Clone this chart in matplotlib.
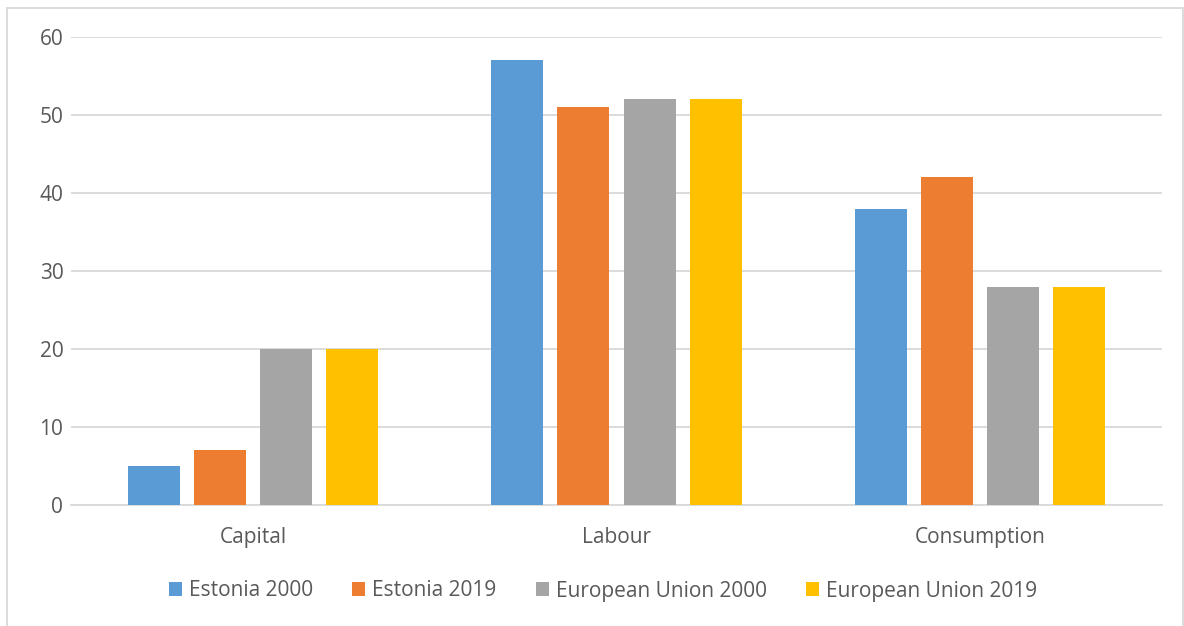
import matplotlib
matplotlib.use("Agg")
from matplotlib import pyplot as plt
from matplotlib.patches import Rectangle
import numpy as np

categories = ["Capital", "Labour", "Consumption"]
series_names = ["Estonia 2000", "Estonia 2019", "European Union 2000", "European Union 2019"]
estonia_2000 = [5, 57, 38]
estonia_2019 = [7, 51, 42]
eu_2000 = [20, 52, 28]
eu_2019 = [20, 52, 28]
y_ticks = [0, 10, 20, 30, 40, 50, 60]

colors = ["#5B9BD5", "#ED7D31", "#A5A5A5", "#FFC000"]
text_color = "#595959"
grid_color = "#D9D9D9"

plt.rcParams['font.family'] = ['Open Sans', 'DejaVu Sans']

fig = plt.figure(figsize=(11.84, 6.26), dpi=100)
# chart border
fig.patches.append(Rectangle((7 / 1184, -0.05), 1175.5 / 1184, 1.05 - 8 / 626,
                             transform=fig.transFigure, fill=False,
                             edgecolor=grid_color, linewidth=1.3))

ax = fig.add_axes([71 / 1184, 1 - 505 / 626, (1162 - 71) / 1184, (505 - 37) / 626])

x = np.arange(len(categories))
step = 0.1815
width = 0.143
all_series = [estonia_2000, estonia_2019, eu_2000, eu_2019]
for i, (name, vals) in enumerate(zip(series_names, all_series)):
    ax.bar(x + (i - 1.5) * step, vals, width, color=colors[i], label=name, zorder=3)

ax.set_xlim(-0.5, 2.5)
ax.set_ylim(0, 60)
ax.set_yticks(y_ticks)
ax.set_xticks(x)
ax.set_xticklabels(categories)
ax.grid(axis='y', color=grid_color, linewidth=1.3, zorder=0)
for side in ['top', 'right', 'left']:
    ax.spines[side].set_visible(False)
ax.spines['bottom'].set_color(grid_color)
ax.spines['bottom'].set_linewidth(1.3)
ax.tick_params(axis='both', length=0, labelsize=15, colors=text_color)
ax.tick_params(axis='y', pad=5.5)
ax.tick_params(axis='x', pad=16)

leg = ax.legend(loc='center', bbox_to_anchor=((603 - 71) / 1091, (505 - 591) / 468),
                ncol=4, frameon=False, fontsize=15, handlelength=0.62, handleheight=0.62,
                columnspacing=1.9, handletextpad=0.33)
for t in leg.get_texts():
    t.set_color(text_color)

fig.savefig("out.png", dpi=100)
